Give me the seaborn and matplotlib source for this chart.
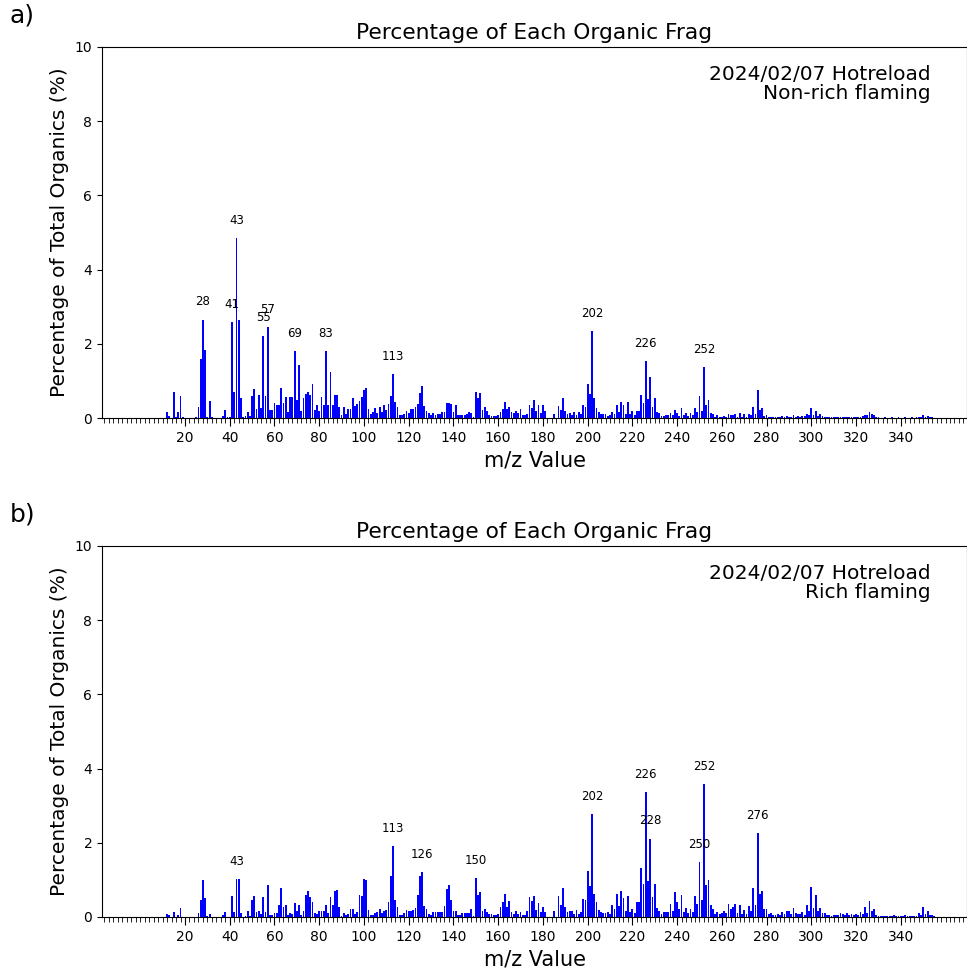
import numpy as np
import pandas as pd
import matplotlib
matplotlib.use("Agg")
import matplotlib.pyplot as plt
import seaborn as sns

# m/z values 1..355
mz = list(range(1, 356))

# panel a) non-rich flaming, % of total organics
nonrich = [
    0, 0, 0, 0, 0, 0, 0, 0, 0, 0,
    0, 0.17, 0.05, 0, 0.70, 0.02, 0.15, 0.60, 0.02, 0,
    0, 0, 0, 0, 0.02, 0.30, 1.59, 2.65, 1.82, 0.03,
    0.46, 0.02, 0, 0, 0, 0, 0.05, 0.22, 0.02, 0.02,
    2.59, 0.69, 4.84, 2.65, 0.55, 0.02, 0.05, 0.17, 0.05, 0.60,
    0.78, 0.25, 0.62, 0.26, 2.22, 0.60, 2.44, 0.22, 0.22, 0.40,
    0.35, 0.36, 0.81, 0.40, 0.57, 0.16, 0.58, 0.57, 1.81, 0.49,
    1.43, 0.18, 0.54, 0.66, 0.69, 0.63, 0.93, 0.21, 0.35, 0.18,
    0.56, 0.35, 1.81, 0.34, 1.24, 0.36, 0.63, 0.62, 0.30, 0.07,
    0.30, 0.12, 0.23, 0.23, 0.53, 0.33, 0.38, 0.46, 0.56, 0.75,
    0.80, 0.23, 0.12, 0.15, 0.26, 0.13, 0.29, 0.15, 0.35, 0.22,
    0.39, 0.60, 1.19, 0.44, 0.30, 0.09, 0.09, 0.12, 0.18, 0.14,
    0.24, 0.24, 0.31, 0.39, 0.67, 0.87, 0.33, 0.18, 0.13, 0.09,
    0.13, 0.09, 0.11, 0.12, 0.15, 0.16, 0.40, 0.40, 0.37, 0.15,
    0.34, 0.09, 0.09, 0.09, 0.09, 0.12, 0.16, 0.13, 0.03, 0.69,
    0.53, 0.67, 0.21, 0.31, 0.20, 0.08, 0.06, 0.06, 0.06, 0.08,
    0.17, 0.24, 0.44, 0.24, 0.31, 0.16, 0.13, 0.20, 0.13, 0.24,
    0.08, 0.08, 0.11, 0.36, 0.27, 0.49, 0.18, 0.36, 0.13, 0.34,
    0.20, 0.01, 0.01, 0, 0.11, 0.01, 0.33, 0.21, 0.53, 0.18,
    0.12, 0.13, 0.09, 0.15, 0.09, 0.15, 0.12, 0.35, 0.31, 0.92,
    0.66, 2.35, 0.55, 0.27, 0.15, 0.12, 0.12, 0.12, 0.06, 0.09,
    0.15, 0.11, 0.34, 0.15, 0.44, 0.36, 0.12, 0.44, 0.12, 0.18,
    0.09, 0.20, 0.20, 0.62, 0.41, 1.53, 0.51, 1.11, 0.29, 0.54,
    0.15, 0.13, 0.06, 0.06, 0.07, 0.09, 0.13, 0.09, 0.22, 0.13,
    0.06, 0.27, 0.09, 0.13, 0.06, 0.13, 0.09, 0.26, 0.15, 0.59,
    0.20, 1.38, 0.36, 0.48, 0.13, 0.12, 0.04, 0.08, 0.04, 0.04,
    0.06, 0.04, 0.11, 0.07, 0.08, 0.11, 0.04, 0.13, 0.04, 0.11,
    0.04, 0.12, 0.08, 0.29, 0.11, 0.75, 0.21, 0.26, 0.06, 0.09,
    0.04, 0.03, 0.03, 0.03, 0.03, 0.04, 0.06, 0.04, 0.05, 0.04,
    0.03, 0.08, 0.04, 0.05, 0.04, 0.05, 0.06, 0.12, 0.09, 0.26,
    0.09, 0.20, 0.06, 0.10, 0.05, 0.03, 0.02, 0.02, 0.02, 0.02,
    0.03, 0.02, 0.04, 0.03, 0.02, 0.04, 0.02, 0.03, 0.02, 0.03,
    0.02, 0.04, 0.06, 0.08, 0.09, 0.15, 0.10, 0.07, 0.03, 0.02,
    0.01, 0.01, 0.02, 0.01, 0.01, 0.02, 0.01, 0.01, 0.02, 0.01,
    0.01, 0.02, 0.01, 0.01, 0.02, 0.01, 0.02, 0.03, 0.03, 0.09,
    0.04, 0.05, 0.03, 0.02, 0.01,
]

# panel b) rich flaming
rich = [
    0, 0, 0, 0, 0, 0, 0, 0, 0, 0,
    0, 0.09, 0.06, 0, 0.13, 0.01, 0.05, 0.23, 0, 0,
    0, 0, 0, 0, 0.01, 0.10, 0.46, 1.00, 0.50, 0.02,
    0.08, 0, 0, 0, 0, 0, 0.04, 0.13, 0.01, 0.01,
    0.56, 0.14, 1.02, 1.02, 0.12, 0.01, 0.02, 0.17, 0.03, 0.45,
    0.57, 0.13, 0.16, 0.08, 0.55, 0.14, 0.86, 0.05, 0.04, 0.10,
    0.10, 0.32, 0.78, 0.26, 0.32, 0.04, 0.12, 0.08, 0.38, 0.15,
    0.33, 0.04, 0.17, 0.60, 0.71, 0.53, 0.40, 0.10, 0.09, 0.17,
    0.17, 0.17, 0.31, 0.12, 0.53, 0.32, 0.69, 0.73, 0.28, 0.03,
    0.12, 0.06, 0.09, 0.22, 0.22, 0.07, 0.14, 0.60, 0.56, 1.02,
    1.00, 0.19, 0.06, 0.06, 0.12, 0.14, 0.22, 0.10, 0.17, 0.19,
    0.41, 1.10, 1.90, 0.46, 0.26, 0.06, 0.04, 0.12, 0.19, 0.17,
    0.17, 0.19, 0.23, 0.58, 1.10, 1.21, 0.30, 0.21, 0.08, 0.06,
    0.14, 0.13, 0.13, 0.13, 0.13, 0.30, 0.76, 0.85, 0.46, 0.15,
    0.15, 0.06, 0.06, 0.10, 0.10, 0.12, 0.12, 0.21, 0.02, 1.04,
    0.60, 0.67, 0.16, 0.21, 0.13, 0.08, 0.08, 0.06, 0.06, 0.09,
    0.28, 0.40, 0.62, 0.28, 0.42, 0.13, 0.09, 0.16, 0.08, 0.13,
    0.06, 0.06, 0.15, 0.55, 0.42, 0.57, 0.20, 0.38, 0.13, 0.26,
    0.14, 0.01, 0.01, 0, 0.15, 0.01, 0.57, 0.31, 0.78, 0.27,
    0.13, 0.15, 0.15, 0.09, 0.20, 0.08, 0.14, 0.49, 0.46, 1.24,
    0.84, 2.77, 0.62, 0.39, 0.19, 0.13, 0.11, 0.11, 0.13, 0.08,
    0.31, 0.22, 0.62, 0.30, 0.71, 0.52, 0.16, 0.57, 0.14, 0.21,
    0.11, 0.39, 0.40, 1.31, 0.88, 3.37, 0.98, 2.11, 0.55, 0.88,
    0.25, 0.16, 0.09, 0.13, 0.14, 0.14, 0.35, 0.17, 0.66, 0.40,
    0.21, 0.60, 0.14, 0.23, 0.10, 0.22, 0.13, 0.57, 0.34, 1.47,
    0.46, 3.58, 0.86, 1.00, 0.31, 0.21, 0.08, 0.14, 0.08, 0.10,
    0.17, 0.10, 0.34, 0.22, 0.26, 0.34, 0.12, 0.33, 0.09, 0.19,
    0.09, 0.29, 0.16, 0.77, 0.33, 2.25, 0.61, 0.69, 0.22, 0.22,
    0.09, 0.11, 0.04, 0.04, 0.08, 0.05, 0.14, 0.08, 0.17, 0.17,
    0.08, 0.23, 0.11, 0.08, 0.08, 0.13, 0.06, 0.31, 0.15, 0.80,
    0.24, 0.58, 0.15, 0.23, 0.10, 0.10, 0.04, 0.04, 0.03, 0.04,
    0.06, 0.04, 0.10, 0.08, 0.04, 0.12, 0.04, 0.08, 0.04, 0.08,
    0.04, 0.13, 0.08, 0.26, 0.12, 0.44, 0.16, 0.21, 0.05, 0.03,
    0.02, 0.02, 0.02, 0.02, 0.02, 0.02, 0.04, 0.02, 0.02, 0.03,
    0.02, 0.04, 0.03, 0.02, 0.03, 0.03, 0.02, 0.12, 0.05, 0.28,
    0.08, 0.15, 0.05, 0.04, 0.03,
]

# peaks that get a text label
labels_a = [28, 41, 43, 55, 57, 69, 83, 113, 202, 226, 252]
labels_b = [43, 113, 126, 150, 202, 226, 228, 250, 252, 276]

panels = [
    ("a)", nonrich, labels_a, "2024/02/07 Hotreload\nNon-rich flaming"),
    ("b)", rich, labels_b, "2024/02/07 Hotreload\nRich flaming"),
]

fig = plt.figure(figsize=(9.67, 9.69), dpi=100)
axes = [fig.add_axes([0.1055, 0.5686, 0.8945, 0.3829]),
        fig.add_axes([0.1055, 0.0537, 0.8945, 0.3829])]

for ax, (tag, vals, peaks, note) in zip(axes, panels):
    df = pd.DataFrame({"mz": mz, "pct": vals})
    sns.barplot(data=df, x="mz", y="pct", native_scale=True, color="blue",
                saturation=1, errorbar=None, linewidth=0, ax=ax)
    for m in peaks:
        ax.text(m, vals[m - 1] + 0.48, str(m), ha="center", va="center", fontsize=8.5)
    ax.set_xlim(-17.1, 369.6)
    ax.set_ylim(0, 10)
    ax.set_xticks(range(20, 341, 20))
    ax.set_xticks(range(-16, 370, 2), minor=True)
    ax.set_yticks(range(0, 11, 2))
    ax.tick_params(axis="x", which="major", length=6, labelsize=10)
    ax.tick_params(axis="x", which="minor", length=3.5)
    ax.tick_params(axis="y", labelsize=10)
    ax.set_title("Percentage of Each Organic Frag", fontsize=15.7)
    ax.set_xlabel("m/z Value", fontsize=15)
    ax.set_ylabel("Percentage of Total Organics (%)", fontsize=14.5)
    ax.text(0.958, 0.952, note, transform=ax.transAxes, ha="right", va="top",
            multialignment="right", fontsize=14.5, linespacing=1.0)
    box = ax.get_position()
    fig.text(0.010, box.y1 + 0.045, tag, fontsize=18, va="top")

fig.savefig("out.png", dpi=100)
